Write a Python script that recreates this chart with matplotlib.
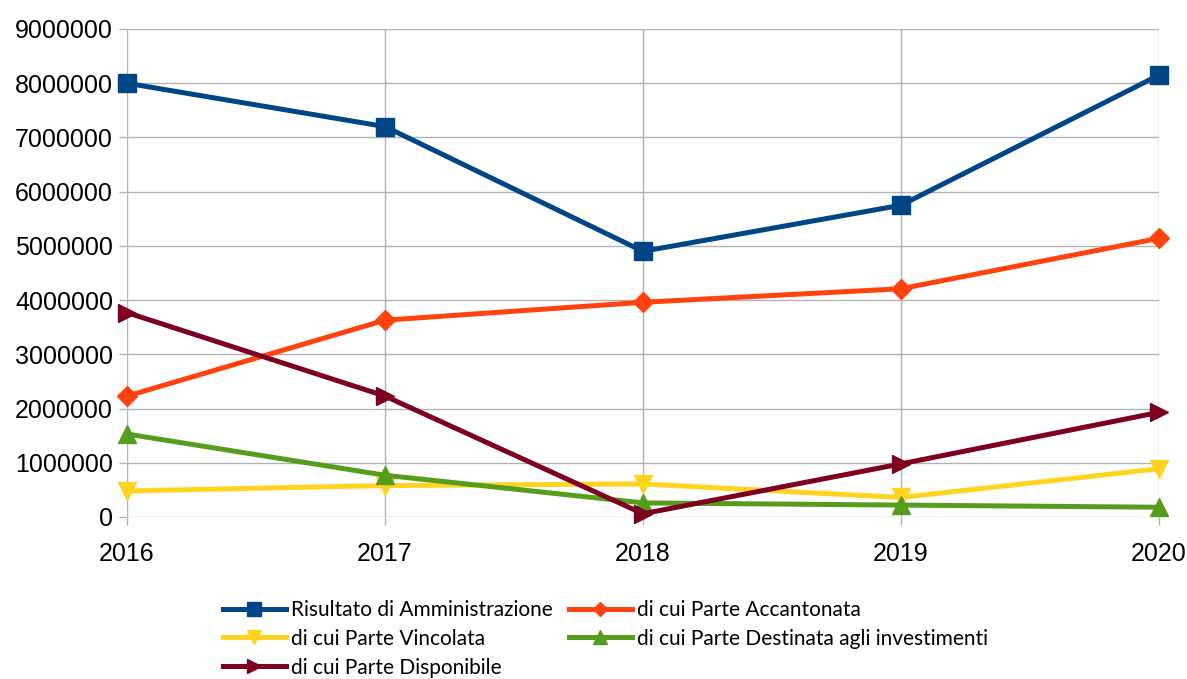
import matplotlib
matplotlib.use("Agg")
import matplotlib.pyplot as plt

years = ["2016", "2017", "2018", "2019", "2020"]
risultato = [8000000, 7200000, 4900000, 5750000, 8150000]
accantonata = [2230000, 3630000, 3960000, 4210000, 5140000]
vincolata = [480000, 580000, 610000, 360000, 890000]
destinata = [1530000, 770000, 260000, 220000, 180000]
disponibile = [3770000, 2230000, 60000, 980000, 1930000]

series = [
    ("Risultato di Amministrazione", risultato, "#004586", "s"),
    ("di cui Parte Accantonata", accantonata, "#ff420e", "D"),
    ("di cui Parte Vincolata", vincolata, "#ffd320", "v"),
    ("di cui Parte Destinata agli investimenti", destinata, "#579d1c", "^"),
    ("di cui Parte Disponibile", disponibile, "#7e0021", ">"),
]

fig = plt.figure(figsize=(11.87, 6.79), dpi=100)
ax = fig.add_axes([127/1187, 1-517/679, (1159-127)/1187, (517-29)/679])

x = list(range(len(years)))
handles = []
for label, vals, color, m in series:
    ms = 13 if m != "D" else 10
    h, = ax.plot(x, vals, color=color, lw=3.6, marker=m, markersize=ms,
                 label=label, clip_on=False, zorder=3)
    handles.append(h)

ax.set_xlim(0, len(years) - 1)
ax.set_ylim(0, 9000000)
ax.set_yticks(range(0, 9000001, 1000000))
ax.set_yticklabels([str(v) for v in range(0, 9000001, 1000000)])
ax.set_xticks(x)
ax.set_xticklabels(years)
ax.grid(True, color="#b3b3b3", lw=1)
ax.set_axisbelow(True)
for s in ax.spines.values():
    s.set_visible(False)
ax.tick_params(axis="both", colors="#b3b3b3", labelcolor="black", length=6, width=1,
               labelsize=18, pad=4)
ax.tick_params(axis="x", pad=12)
for t in ax.get_xticklabels() + ax.get_yticklabels():
    t.set_fontfamily("Liberation Sans")

order = [0, 2, 4, 1, 3]
leg = fig.legend([handles[i] for i in order], [series[i][0] for i in order],
                 loc="upper left", bbox_to_anchor=(223/1187, 1-600/679), ncol=2,
                 frameon=False, prop={"family": "Lato", "size": 15},
                 handlelength=3.0, handletextpad=0.25, columnspacing=0.8,
                 labelspacing=0.42, borderaxespad=0, borderpad=0, markerscale=0.75)

fig.savefig("out.png", dpi=100)
